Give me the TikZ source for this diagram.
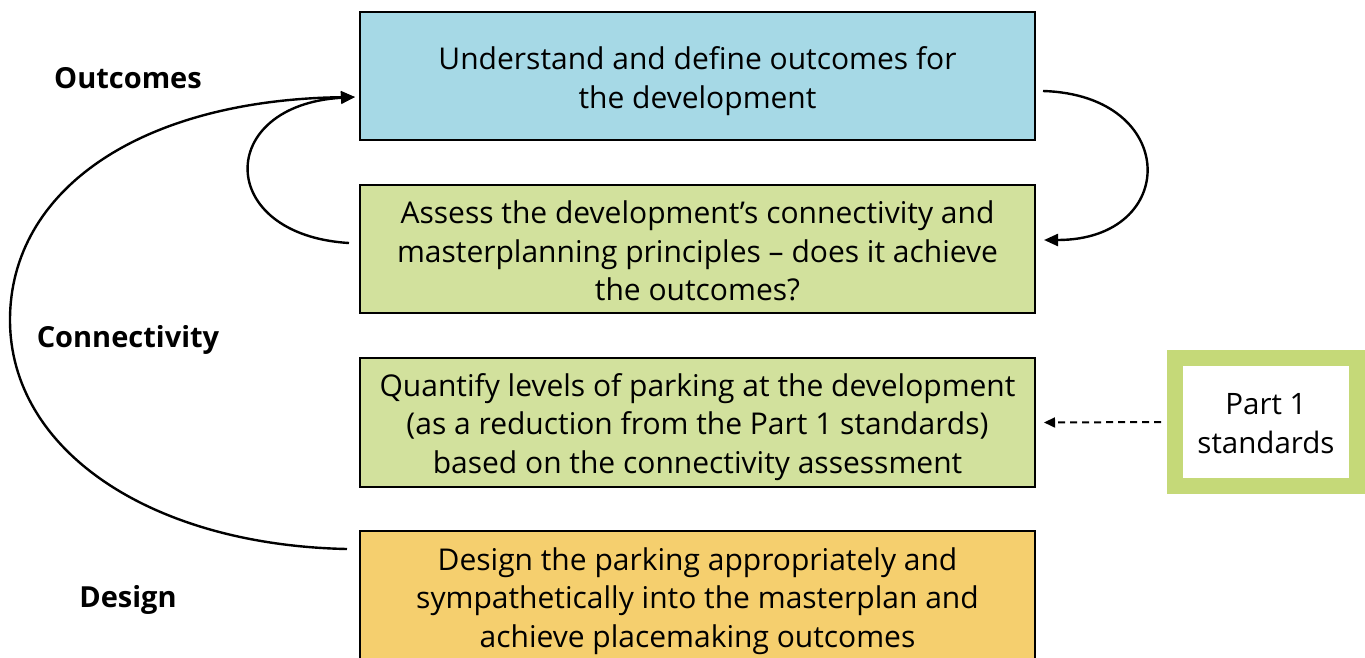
\documentclass[tikz,border=0pt]{standalone}
\usepackage{fontspec}
\setmainfont{Open Sans}
\usetikzlibrary{arrows.meta}
\definecolor{bblue}{RGB}{166,217,230}
\definecolor{bgreen}{RGB}{210,225,157}
\definecolor{borange}{RGB}{245,207,110}
\definecolor{pgreen}{RGB}{197,217,120}
\tikzset{
  stepbox/.style={draw=black, line width=2pt, minimum width=675pt, inner sep=0pt},
  steptext/.style={align=center, inner sep=0pt, font=\fontsize{30}{38.5}\selectfont},
  lbl/.style={font=\fontsize{29}{30}\selectfont\bfseries},
  conn/.style={line width=2.4pt, -{Triangle[length=14pt,width=12pt]}},
}
\begin{document}
\begin{tikzpicture}[x=1pt,y=-1pt]
\useasboundingbox (0,0) rectangle (1365,657);
\node[stepbox, fill=bblue, minimum height=128pt] (b1) at (697.5,76) {};
\node[steptext] (t1) at ([yshift=-5pt]b1.center) {Understand and define outcomes for\\the development};
\node[stepbox, fill=bgreen, minimum height=128pt] (b2) at (697.5,249) {};
\node[steptext] (t2) at ([yshift=-2pt]b2.center) {Assess the development’s connectivity and\\masterplanning principles – does it achieve\\the outcomes?};
\node[stepbox, fill=bgreen, minimum height=129pt] (b3) at (697.5,422.5) {};
\node[steptext] (t3) at ([yshift=-4.5pt]b3.center) {Quantify levels of parking at the development\\(as a reduction from the Part 1 standards)\\based on the connectivity assessment};
\node[stepbox, fill=borange, minimum height=134pt] (b4) at (697.5,598) {};
\node[steptext] (t4) at ([yshift=-3pt]b4.center) {Design the parking appropriately and\\sympathetically into the masterplan and\\achieve placemaking outcomes};
\node[draw=pgreen, line width=16pt, fill=white, minimum width=182pt, minimum height=128pt, inner sep=0pt] (p1) at (1266,422) {};
\node[steptext, font=\fontsize{29.5}{38.5}\selectfont] (pt) at ([yshift=-1.5pt]p1.center) {Part 1\\standards};
\node[lbl] (l1) at (128,78) {Outcomes};
\node[lbl] (l2) at (128,340) {Connectivity};
\node[lbl] (l3) at (128,600) {Design};
\draw[conn] ([xshift=-10pt,yshift=6pt]b2.west) .. controls (215,235) and (215,105) .. ([xshift=-4pt,yshift=-21pt]b1.west);
\draw[conn] ([xshift=-12pt,yshift=-19pt]b4.north west) .. controls (150,545) and (10,450) .. (10,320) .. controls (10,190) and (140,100) .. ([xshift=-4pt,yshift=-21pt]b1.west);
\draw[conn] ([xshift=7pt,yshift=-15pt]b1.east) .. controls (1180,95) and (1180,240) .. ([xshift=8pt,yshift=9pt]b2.east);
\draw[line width=2pt, dashed, dash pattern=on 7pt off 5pt, -{Triangle[length=11pt,width=10pt]}] ([xshift=-6pt]p1.west) -- ([xshift=8pt]b3.east);
\end{tikzpicture}
\end{document}
